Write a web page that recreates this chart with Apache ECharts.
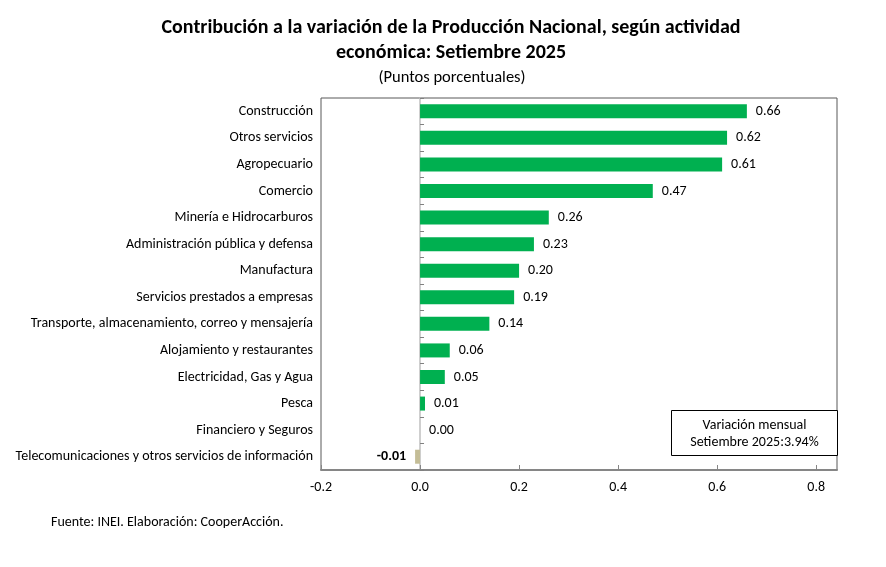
<!DOCTYPE html>
<html style="height: 100%">
<head>
    <meta charset="utf-8">
    <script src="https://cdn.jsdelivr.net/npm/echarts@6/dist/echarts.min.js"></script>
</head>
<body style="height: 100%; margin: 0; background: #fff">
<div id="container" style="width: 886px; height: 567px"></div>
<script type="text/javascript">
    // datos (puntos porcentuales)
    var categorias = [
        "Construcción",
        "Otros servicios",
        "Agropecuario",
        "Comercio",
        "Minería e Hidrocarburos",
        "Administración pública y defensa",
        "Manufactura",
        "Servicios prestados a empresas",
        "Transporte, almacenamiento, correo y mensajería",
        "Alojamiento y restaurantes",
        "Electricidad, Gas y Agua",
        "Pesca",
        "Financiero y Seguros",
        "Telecomunicaciones y otros servicios de información"
    ];
    var contribucion = [0.66, 0.62, 0.61, 0.47, 0.26, 0.23, 0.20, 0.19, 0.14, 0.06, 0.05, 0.01, 0.00, -0.01];
    var ticksX = [-0.2, 0.0, 0.2, 0.4, 0.6, 0.8];
    var variacionMensual = "Setiembre 2025:3.94%";

    var FONT = "Carlito, Lato, sans-serif";
    var dom = document.getElementById("container");
    var myChart = echarts.init(dom);

    var serieData = contribucion.map(function (v) {
        if (v < 0) {
            return {
                value: v,
                itemStyle: {color: '#c4bd97'},
                label: {position: 'left', fontWeight: 'bold'}
            };
        }
        return {value: v};
    });

    var option = {
        animation: false,
        backgroundColor: '#fff',
        title: [{
            text: "Contribución a la variación de la Producción Nacional, según actividad\neconómica: Setiembre 2025",
            left: 446, top: 10, textAlign: 'center',
            textStyle: {fontFamily: FONT, fontSize: 20, fontWeight: 'bold', color: '#000', lineHeight: 25}
        }, {
            text: "(Puntos porcentuales)",
            left: 447, top: 64, textAlign: 'center',
            textStyle: {fontFamily: FONT, fontSize: 16.5, fontWeight: 'normal', color: '#000'}
        }, {
            text: "Fuente: INEI. Elaboración: CooperAcción.",
            left: 46, top: 510,
            textStyle: {fontFamily: FONT, fontSize: 14, fontWeight: 'normal', color: '#000'}
        }],
        grid: {
            left: 321, top: 98, right: 49, bottom: 97,
            show: true, borderColor: '#595959', borderWidth: 1,
            containLabel: false
        },
        xAxis: {
            type: 'value',
            min: ticksX[0],
            max: 0.842,
            interval: 0.2,
            splitLine: {show: false},
            axisLine: {show: true, onZero: false, lineStyle: {color: '#868686', width: 2}},
            axisTick: {show: true, inside: true, length: 5, lineStyle: {color: '#868686'}},
            axisLabel: {
                showMaxLabel: false,
                fontFamily: FONT, fontSize: 14, color: '#000', margin: 10,
                formatter: function (v) {
                    return v.toFixed(1);
                }
            }
        },
        yAxis: [{
            type: 'category',
            data: categorias,
            inverse: true,
            axisLine: {show: false, onZero: false},
            axisTick: {show: false},
            axisLabel: {fontFamily: FONT, fontSize: 14, color: '#000', margin: 8}
        }, {
            type: 'category',
            data: categorias,
            inverse: true,
            axisLine: {show: true, onZero: true, lineStyle: {color: '#bfbfbf', width: 1.5}},
            axisTick: {show: true, length: 4, lineStyle: {color: '#808080'}},
            axisLabel: {show: false}
        }],
        series: [{
            type: 'bar',
            yAxisIndex: 0,
            data: serieData,
            barWidth: 14,
            itemStyle: {color: '#00b050'},
            label: {
                show: true,
                position: 'right',
                distance: 9,
                fontFamily: FONT, fontSize: 14, color: '#000',
                formatter: function (p) {
                    return p.value.toFixed(2);
                }
            }
        }],
        graphic: [{
            type: 'group',
            left: 671, top: 410,
            children: [{
                type: 'rect',
                shape: {x: 0, y: 0, width: 166, height: 45},
                style: {fill: '#fff', stroke: '#000', lineWidth: 1}
            }, {
                type: 'text',
                x: 83, y: 6,
                style: {
                    text: "Variación mensual\n" + variacionMensual,
                    align: 'center', fill: '#000',
                    font: '14px ' + FONT, lineHeight: 17
                }
            }]
        }]
    };

    myChart.setOption(option);
</script>
</body>
</html>
